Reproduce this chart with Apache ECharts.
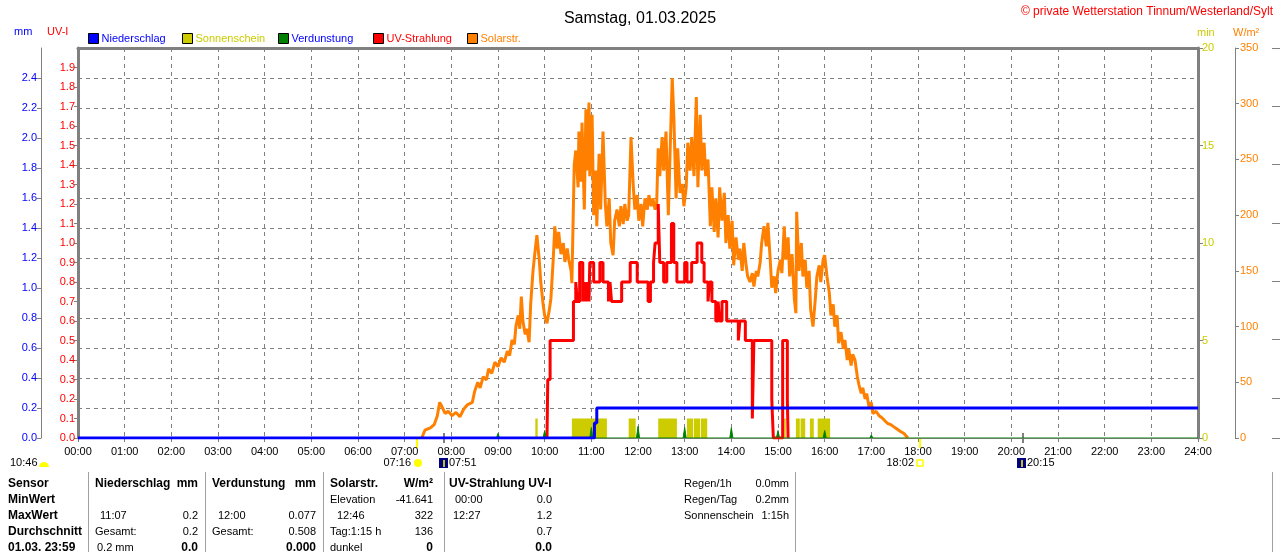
<!DOCTYPE html>
<html>
<head>
<meta charset="utf-8">
<script src="https://cdn.jsdelivr.net/npm/echarts@6/dist/echarts.min.js"></script>
<style>
html, body { margin: 0; padding: 0; background: #fff; }
#chart { width: 1280px; height: 552px; }
</style>
</head>
<body>
<div id="chart"></div>
<script>
// all times are minutes after midnight

// Solarstrahlung W/m²
const solarMin = [442,446,453,458,462,465,468,472,476,481, 486,491,496,501,507,510,514,517,521,525,
  528,532,536,540,544,548,552,555,558,561, 563,566,568,570,572,575,577,580,582,585,
  588,590,593,595,598,600,603,606,608,611, 613,616,618,621,624,626,629,631,634,635,
  638,640,643,644,647,648,651,653,654,657, 658,661,663,666,667,670,672,675,678,680,
  683,685,688,690,693,696,698,701,703,706, 708,711,714,716,719,721,724,726,729,732,
  734,737,739,742,744,746,748,751,753,756, 759,761,764,766,769,771,774,777,779,782,
  784,787,789,792,795,797,800,802,805,807, 810,813,815,818,820,823,825,828,831,833,
  836,838,841,843,846,849,851,854,856,859, 861,864,867,869,872,874,877,879,882,885,
  887,890,892,895,897,900,903,905,908,910, 913,915,918,921,923,924,927,930,932,935,
  937,940,942,945,948,950,953,955,958,960, 963,966,968,971,973,976,978,981,984,986,
  989,991,994,996,999,1002,1004,1007,1009,1012, 1014,1017,1020,1022,1026,1030,1034,1038,1041,1045,
  1049,1053,1057,1062,1067]
const solarW = [0,7,9,12,20,32,28,22,24,20, 23,19,26,30,32,42,50,45,55,52,
  62,58,68,64,72,68,78,74,88,84, 100,110,98,127,105,93,98,86,120,150,
  170,182,160,140,120,110,103,115,125,160, 190,170,185,165,175,158,170,160,150,139,
  245,258,225,275,230,283,205,295,240,301, 235,290,200,240,190,255,205,275,210,190,
  215,175,164,195,205,190,208,192,210,195, 200,270,225,205,218,195,210,190,215,205,
  218,208,215,205,210,260,235,270,240,275, 200,250,323,290,215,260,220,228,208,225,
  265,240,270,235,306,225,290,240,265,235, 250,190,225,185,215,180,225,195,220,175,
  200,170,195,155,180,160,170,150,175,155, 145,140,148,136,150,145,157,175,190,172,
  193,160,135,145,130,150,160,148,190,160, 180,145,165,125,112,203,150,175,145,160,
  135,150,115,100,125,145,155,140,160,164, 145,130,110,120,100,110,85,95,80,88,
  70,80,65,75,70,55,48,40,45,35, 40,28,32,22,24,20,18,15,13,12,
  10,8,6,4,0]

// UV-Strahlung UV-I (value holds until next time)
const uvMin = [603,604,607,637,640,642,645,649,651,653, 655,657,658,663,671,675,682,684,686,699,
  710,719,733,736,740,742,746,748,753,757, 763,766,770,780,783,789,796,802,805,810,
  812,815,820,823,825,828,834,849,851,858, 867,869,892,894,906,912,913]
const uvVal = [0,0.3,0.5,0.7,0.8,0.7,0.9,0.7,0.8,0.7, 0.8,0.7,0.9,0.8,0.9,0.8,0.7,0.8,0.7,0.8,
  0.9,0.8,0.7,0.8,0.9,1.0,1.2,0.9,0.8,0.9, 1.1,0.9,0.8,0.9,0.8,0.9,1.0,0.9,0.8,0.7,
  0.8,0.7,0.6,0.7,0.6,0.7,0.6,0.5,0.6,0.5, 0.1,0.5,0.2,0,0.5,0.2,0]

// Niederschlag mm (cumulative)
const rainMin = [0, 664, 667, 1440]
const rainMm = [0, 0.1, 0.2, 0.2]

// Verdunstung mm, hourly
const evapHour = [9, 10, 11, 12, 13, 14, 15, 16, 17]
const evapMm = [0.03, 0.05, 0.07, 0.077, 0.07, 0.068, 0.05, 0.05, 0.02]

// Sonnenschein runs, minutes of sun
const sunStart = [588, 635, 708, 746, 783, 792, 801, 908, 923, 929, 941, 951]
const sunEnd = [591, 680, 717, 770, 791, 800, 809, 910, 928, 935, 946, 967]
const sunMinutes = [1, 1, 1, 1, 1, 1, 1, 1, 1, 1, 1, 1]

// sun / moon rise and set
const eventMin = [436, 471, 1082, 1215]
const eventLabel = ['07:16', '07:51', '18:02', '20:15']
const eventKind = ['sunrise', 'moonrise', 'sunset', 'moonset']

// legend entries
const legendNames = ['Niederschlag', 'Sonnenschein', 'Verdunstung', 'UV-Strahlung', 'Solarstr.']
const legendColors = ['#0000ff', '#cccc00', '#0000ff', '#ff0000', '#ff8000']
const legendLeft = [88, 182, 278, 373, 467]

// table under the chart: [x, y, text, align, bold]
const tableCells = [
  [8, 484, 'Sensor', 'left', 1], [8, 500, 'MinWert', 'left', 1], [8, 516, 'MaxWert', 'left', 1],
  [8, 532, 'Durchschnitt', 'left', 1], [8, 548, '01.03. 23:59', 'left', 1],
  [95, 484, 'Niederschlag', 'left', 1], [198, 484, 'mm', 'right', 1],
  [100, 516, '11:07', 'left', 0], [198, 516, '0.2', 'right', 0],
  [95, 532, 'Gesamt:', 'left', 0], [198, 532, '0.2', 'right', 0],
  [97, 548, '0.2 mm', 'left', 0], [198, 548, '0.0', 'right', 1],
  [212, 484, 'Verdunstung', 'left', 1], [316, 484, 'mm', 'right', 1],
  [218, 516, '12:00', 'left', 0], [316, 516, '0.077', 'right', 0],
  [212, 532, 'Gesamt:', 'left', 0], [316, 532, '0.508', 'right', 0],
  [316, 548, '0.000', 'right', 1],
  [330, 484, 'Solarstr.', 'left', 1], [433, 484, 'W/m²', 'right', 1],
  [330, 500, 'Elevation', 'left', 0], [433, 500, '-41.641', 'right', 0],
  [337, 516, '12:46', 'left', 0], [433, 516, '322', 'right', 0],
  [330, 532, 'Tag:1:15 h', 'left', 0], [433, 532, '136', 'right', 0],
  [330, 548, 'dunkel', 'left', 0], [433, 548, '0', 'right', 1],
  [449, 484, 'UV-Strahlung UV-I', 'left', 1],
  [455, 500, '00:00', 'left', 0], [552, 500, '0.0', 'right', 0],
  [453, 516, '12:27', 'left', 0], [552, 516, '1.2', 'right', 0],
  [552, 532, '0.7', 'right', 0], [552, 548, '0.0', 'right', 1],
  [684, 484, 'Regen/1h', 'left', 0], [789, 484, '0.0mm', 'right', 0],
  [684, 500, 'Regen/Tag', 'left', 0], [789, 500, '0.2mm', 'right', 0],
  [684, 516, 'Sonnenschein', 'left', 0], [789, 516, '1:15h', 'right', 0]
]
const tableLines = [88, 205, 323, 444, 795, 1272]

const FONT = '"Liberation Sans", Arial, sans-serif'
const GRAY = '#808080'
const BLUE = '#0000ff', RED = '#ff0000', GREEN = '#008000', ORANGE = '#ff8000', OLIVE = '#cccc00'

const pairs = (xs, ys) => xs.map((x, i) => [x, ys[i]])

const evapData = [[0, 0]]
evapHour.forEach((h, i) => {
  evapData.push([h * 60 - 2, 0], [h * 60, evapMm[i]], [h * 60 + 2, 0])
})
evapData.push([1440, 0])

const sunData = sunStart.map((s, i) => [s, sunEnd[i], sunMinutes[i]])

function renderSun(params, api) {
  const a = api.coord([api.value(0), api.value(2)])
  const b = api.coord([api.value(1), 0])
  return {
    type: 'rect',
    shape: { x: a[0], y: a[1], width: b[0] - a[0], height: b[1] - a[1] },
    style: { fill: OLIVE }
  }
}

function valueAxis(o) {
  return Object.assign({
    type: 'value',
    axisLine: { show: true, onZero: false, lineStyle: { color: GRAY, width: 1 } },
    axisTick: { show: true, length: 4, lineStyle: { color: GRAY } },
    splitLine: { show: false }
  }, o)
}

const legends = legendNames.map((n, i) => ({
  left: legendLeft[i], top: 33, padding: 0, itemWidth: 10, itemHeight: 10, icon: 'rect',
  textStyle: { fontSize: 11, fontFamily: FONT, padding: [1, 0, 0, -2] },
  itemStyle: { borderColor: '#000', borderWidth: 1 },
  data: [{ name: n, textStyle: { color: legendColors[i] } }]
}))

const chart = echarts.init(document.getElementById('chart'), null, { renderer: 'canvas' })

chart.setOption({
  animation: false,
  backgroundColor: '#fff',
  textStyle: { fontFamily: FONT },
  title: {
    text: 'Samstag, 01.03.2025',
    left: 'center', top: 6,
    textStyle: { fontSize: 16, fontWeight: 'normal', color: '#000', fontFamily: FONT }
  },
  legend: legends,
  grid: { left: 78, right: 82, top: 48, bottom: 114 },
  xAxis: [
    valueAxis({
      min: 0, max: 1440, interval: 60,
      axisLabel: {
        color: '#000', fontSize: 11, margin: 8,
        formatter: v => String(v / 60).padStart(2, '0') + ':00'
      },
      splitLine: { show: true, lineStyle: { color: GRAY, type: [4, 4] } }
    }),
    valueAxis({
      min: 0, max: 1440, position: 'top',
      axisLine: { show: true, onZero: false, lineStyle: { color: GRAY, width: 3 } },
      axisTick: { show: false }, axisLabel: { show: false }
    })
  ],
  yAxis: [
    valueAxis({ // mm
      position: 'left', offset: 37, min: 0, max: 2.6, interval: 0.2,
      axisLabel: { color: BLUE, fontSize: 11, margin: 4, showMaxLabel: false, formatter: v => v.toFixed(1) },
      splitLine: { show: true, lineStyle: { color: GRAY, type: [4, 4] } }
    }),
    valueAxis({ // UV-I
      position: 'left', offset: 0, min: 0, max: 2, interval: 0.1,
      axisLine: { show: true, onZero: false, lineStyle: { color: GRAY, width: 3 } },
      axisLabel: { color: RED, fontSize: 11, margin: 3, showMaxLabel: false, formatter: v => v.toFixed(1) }
    }),
    valueAxis({ // min
      position: 'right', offset: 0, min: 0, max: 20, interval: 5,
      axisLine: { show: true, onZero: false, lineStyle: { color: GRAY, width: 3 } },
      axisTick: { show: true, length: 5, lineStyle: { color: GRAY } },
      axisLabel: { color: OLIVE, fontSize: 11, margin: 4 }
    }),
    valueAxis({ // W/m²
      position: 'right', offset: 37, min: 0, max: 350, interval: 50,
      axisLabel: { color: ORANGE, fontSize: 11, margin: 5 }
    }),
    valueAxis({ // frame ticks on the right edge
      position: 'right', offset: 82, inverse: true, min: 0, max: 6.69, interval: 1,
      axisTick: { show: true, inside: true, length: 8, lineStyle: { color: GRAY } },
      axisLabel: { show: false }
    })
  ],
  series: [
    {
      name: 'Sonnenschein', type: 'custom', xAxisIndex: 0, yAxisIndex: 2,
      data: sunData, encode: { x: [0, 1], y: 2 },
      itemStyle: { color: OLIVE }, renderItem: renderSun
    },
    {
      name: 'Solarstr.', type: 'line', yAxisIndex: 3, data: pairs(solarMin, solarW),
      showSymbol: false, lineStyle: { color: ORANGE, width: 3 }, itemStyle: { color: ORANGE }
    },
    {
      name: 'UV-Strahlung', type: 'line', yAxisIndex: 1, step: 'end', data: pairs(uvMin, uvVal),
      showSymbol: false, lineStyle: { color: RED, width: 3 }, itemStyle: { color: RED }
    },
    {
      name: 'Verdunstung', type: 'line', yAxisIndex: 0, data: evapData,
      showSymbol: false, lineStyle: { color: GREEN, width: 1 },
      areaStyle: { color: GREEN, opacity: 1 }, itemStyle: { color: GREEN }
    },
    {
      name: 'Niederschlag', type: 'line', yAxisIndex: 0, step: 'end', data: pairs(rainMin, rainMm),
      showSymbol: false, lineStyle: { color: BLUE, width: 3 }, itemStyle: { color: BLUE }
    }
  ]
})

// texts, table and sun/moon marks
const g = []
const txt = (x, y, text, color, align) => ({
  type: 'text', x: x, y: y,
  style: { text: text, fill: color, font: '11px ' + FONT, textAlign: align || 'left', textVerticalAlign: 'middle' }
})

g.push({
  type: 'text', x: 1273, y: 12,
  style: { text: '© private Wetterstation Tinnum/Westerland/Sylt', fill: RED, font: '12px ' + FONT, textAlign: 'right', textVerticalAlign: 'middle' }
})
g.push(txt(14, 32, 'mm', BLUE))
g.push(txt(47, 32, 'UV-I', RED))
g.push(txt(1197, 33, 'min', OLIVE))
g.push(txt(1233, 33, 'W/m²', ORANGE))

// day length
g.push(txt(10, 463, '10:46', '#000'))
g.push({ type: 'sector', shape: { cx: 44, cy: 467, r0: 0, r: 5, startAngle: Math.PI, endAngle: 2 * Math.PI }, style: { fill: '#ffff00' } })

eventMin.forEach((m, i) => {
  const x = Math.round(chart.convertToPixel({ xAxisIndex: 0 }, m))
  const kind = eventKind[i]
  if (kind.startsWith('sun')) {
    g.push({ type: 'line', shape: { x1: x, y1: 439, x2: x, y2: 448 }, style: { stroke: '#ffff00', lineWidth: 2 } })
    g.push(txt(x - 6, 463, eventLabel[i], '#000', 'right'))
    if (kind === 'sunrise') {
      g.push({ type: 'circle', shape: { cx: x + 1, cy: 463, r: 4 }, style: { fill: '#ffff00' } })
    } else {
      g.push({ type: 'rect', shape: { x: x - 3, y: 460, width: 6, height: 6 }, style: { fill: '#fff', stroke: '#ffff00', lineWidth: 1.5 } })
    }
  } else {
    g.push({ type: 'line', shape: { x1: x, y1: 433, x2: x, y2: 443 }, style: { stroke: GRAY, lineWidth: 2 } })
    const left = kind === 'moonrise' ? x - 5 : x - 6
    g.push({ type: 'rect', shape: { x: left, y: 458, width: 9, height: 10 }, style: { fill: '#000080' } })
    g.push({ type: 'line', shape: { x1: left + 5, y1: 460, x2: left + 5, y2: 467 }, style: { stroke: '#ffff00', lineWidth: 1.5 } })
    g.push(txt(left + 10, 463, eventLabel[i], '#000'))
  }
})

tableLines.forEach(x => {
  g.push({ type: 'line', shape: { x1: x + 0.5, y1: 472, x2: x + 0.5, y2: 552 }, style: { stroke: '#a0a0a0', lineWidth: 1 } })
})
tableCells.forEach(c => {
  g.push({
    type: 'text', x: c[0], y: c[1],
    style: {
      text: c[2], fill: '#000', textAlign: c[3], textVerticalAlign: 'middle',
      font: (c[4] ? 'bold 12px ' : '11px ') + FONT
    }
  })
})

chart.setOption({ graphic: g })
</script>
</body>
</html>
